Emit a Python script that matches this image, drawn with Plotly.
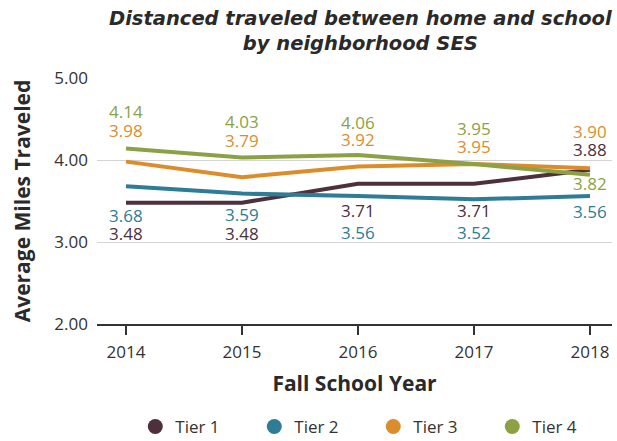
import plotly.graph_objects as go

years = [2014, 2015, 2016, 2017, 2018]
series_names = ["Tier 1", "Tier 2", "Tier 3", "Tier 4"]
tier1 = [3.48, 3.48, 3.71, 3.71, 3.88]
tier2 = [3.68, 3.59, 3.56, 3.52, 3.56]
tier3 = [3.98, 3.79, 3.92, 3.95, 3.90]
tier4 = [4.14, 4.03, 4.06, 3.95, 3.82]
y_ticks = [2.0, 3.0, 4.0, 5.0]
y_tick_labels = ["2.00", "3.00", "4.00", "5.00"]

values = [tier1, tier2, tier3, tier4]
colors = ["#4e2f3c", "#2e7c95", "#dc8d2b", "#8ca144"]
# label offsets in pixels (positive = downward on screen)
label_offsets = [
    [31, 31, 27, 27, -20],
    [29, 21, 36, 33, 15],
    [-31, -37, -27, -18, -37],
    [-37, -36, -33, -36, 9],
]

FONT = "Open Sans"
TITLE_FONT = "DejaVu Sans"
fig = go.Figure()

for name, vals, col in zip(series_names, values, colors):
    fig.add_trace(go.Scatter(
        x=years, y=vals, mode="lines", name=name,
        line=dict(color=col, width=4), showlegend=False, hoverinfo="x+y+name",
    ))
# legend proxies (circle markers)
for name, col in zip(series_names, colors):
    fig.add_trace(go.Scatter(
        x=[None], y=[None], mode="markers", name=name,
        marker=dict(color=col, size=15, symbol="circle"), showlegend=True,
    ))

annotations = []
for vals, col, offs in zip(values, colors, label_offsets):
    for x, v, off in zip(years, vals, offs):
        annotations.append(dict(
            x=x, y=v, xref="x", yref="y", text=f"{v:.2f}", showarrow=False,
            yshift=-off, font=dict(family=FONT, size=17, color=col),
            xanchor="center", yanchor="middle",
        ))

annotations.append(dict(
    text="Distanced traveled between home and school<br>by neighborhood SES",
    x=0.511, xref="paper", xanchor="center",
    y=1.0, yref="paper", yanchor="middle", yshift=47,
    showarrow=False, align="center",
    font=dict(family=TITLE_FONT, size=19.5, color="#2a2a2a", style="italic", weight="bold"),
))

fig.update_layout(
    width=617, height=441,
    paper_bgcolor="white", plot_bgcolor="white",
    margin=dict(l=97, r=5, t=78, b=117, autoexpand=False),
    font=dict(family=FONT, color="#333333"),
    annotations=annotations,
    legend=dict(
        orientation="h", x=0.605, xanchor="center", xref="container",
        y=1 - 427 / 441, yanchor="middle", yref="container",
        font=dict(family=FONT, size=17, color="#333333"),
        itemwidth=30, entrywidth=74, entrywidthmode="pixels",
        itemsizing="trace",
    ),
    xaxis=dict(
        range=[2013.75, 2018.19], tickvals=years, ticktext=[str(y) for y in years],
        showgrid=False, zeroline=False, automargin=False,
        showline=True, linecolor="#333333", linewidth=1.5,
        ticks="outside", ticklen=9, tickwidth=1.5, tickcolor="#333333",
        ticklabelstandoff=3,
        tickfont=dict(family=FONT, size=17, color="#333333"),
        title=dict(text="<b>Fall School Year</b>", standoff=14,
                   font=dict(family=FONT, size=21, color="#2a2a2a")),
    ),
    yaxis=dict(
        range=[2.0, 5.0], tickvals=y_ticks, ticktext=y_tick_labels,
        showgrid=True, gridcolor="#d4d4d4", gridwidth=1.2,
        zeroline=False, showline=False, ticks="", automargin=False,
        ticklabelstandoff=8,
        tickfont=dict(family=FONT, size=17, color="#333333"),
        title=dict(text="<b>Average Miles Traveled</b>", standoff=18,
                   font=dict(family=FONT, size=21, color="#2a2a2a")),
    ),
)

fig.write_html(
    "out.html",
    config={"displayModeBar": False},
    post_script="document.body.style.margin='0';document.body.style.padding='0';",
)
